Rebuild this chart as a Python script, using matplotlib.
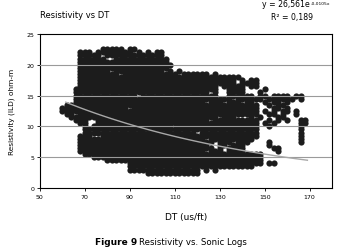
import numpy as np
import matplotlib.pyplot as plt

# Point cloud: one row per resistivity level,
# one character per DT column ('#' = points present)
DT_START = 58
DT_STEP = 2
res_levels = [22.5, 22.0, 21.5, 21.0, 20.5, 20.0, 19.5, 19.0, 18.5, 18.0,
              17.5, 17.0, 16.5, 16.0, 15.5, 15.0, 14.5, 14.0, 13.5, 13.0,
              12.5, 12.0, 11.5, 11.0, 10.5, 10.0, 9.5, 9.0, 8.5, 8.0,
              7.5, 7.0, 6.5, 6.0, 5.5, 5.0, 4.5, 4.0, 3.5, 3.0, 2.5]
cloud_rows = [
    "..........#####.##",
    ".....###.########.#.#.##",
    ".....#####.#############",
    ".....######..############",
    ".....####################",
    ".....#####################",
    ".....####################",
    ".....#######.###########.#.#",
    ".....#########.############.######.#",
    ".....####################################",
    ".....###################################.#.##",
    ".....###################################.####",
    ".....###############################.#####.##",
    "....################################..####....#",
    "....##############################.#..####...#",
    "....##############.#################..######.##.####.##",
    "....###################################.######.######.#",
    "....#############################.###.###.##..#.##.#",
    "..###########################################..#.##",
    ".###############.############################...##.#",
    ".############################################.#.#.##.#",
    "..##.########################################..##.#..#",
    "...#################################.###...#.#...##",
    "....###..#########################.##########..#.#.#..##",
    ".....##..####################################.#.#.....##",
    "......#.##################.##################..#......#",
    "......#######################################.........#",
    "......#########################.#############.........#",
    ".....###..###################################.........#",
    ".....############################.##########..........#",
    ".....##############################.###.###....#......#",
    ".....#############################..##.###.....#",
    ".....##############################.#.####......##",
    ".....############################.###.####.......#",
    "......########################################",
    "........######################################",
    "...........###################################",
    "................##############################.##",
    "................############################",
    "................################.#.#",
    "....................############",
]

# Exponential trend line shown on the chart
fit_a = 26.561
fit_b = -0.0105
fit_range = [61.5, 169]

x_ticks = [50, 70, 90, 110, 130, 150, 170]
y_ticks = [0, 5, 10, 15, 20, 25]

dt_vals = []
res_vals = []
for r, row in zip(res_levels, cloud_rows):
    for i, ch in enumerate(row):
        if ch == '#':
            dt_vals.append(DT_START + DT_STEP * i)
            res_vals.append(r)

fig = plt.figure(figsize=(3.41, 2.53), dpi=100)
ax = fig.add_axes([0.117, 0.253, 0.857, 0.609])

ax.scatter(dt_vals, res_vals, s=20, marker='o', color='#1c1c1c',
           linewidths=0, zorder=2)

for yv in y_ticks[1:-1]:
    ax.axhline(yv, color='#9a9a9a', lw=0.8, zorder=3)

xf = np.linspace(fit_range[0], fit_range[1], 100)
ax.plot(xf, fit_a * np.exp(fit_b * xf), color='#a8a8a8', lw=1.0, zorder=4)

ax.set_xlim(50, 180)
ax.set_ylim(0, 25)
ax.set_xticks(x_ticks)
ax.set_yticks(y_ticks)
ax.tick_params(labelsize=4.5, length=2, width=0.6, pad=2)
for sp in ax.spines.values():
    sp.set_linewidth(0.8)

ax.set_xlabel('DT (us/ft)', fontsize=6.5, labelpad=10)
ax.set_ylabel('Resistivity (ILD) ohm-m', fontsize=5.3, labelpad=8)

fig.text(0.117, 0.94, 'Resistivity vs DT', fontsize=6, va='center')
fig.text(0.908, 0.972, 'y = 26,561e', fontsize=5.6, ha='right', va='baseline')
fig.text(0.910, 0.982, '-0,0105x', fontsize=3.2, ha='left', va='baseline')
fig.text(0.857, 0.93, 'R² = 0,189', fontsize=5.6, ha='center', va='center')
fig.text(0.279, 0.04, 'Figure 9', fontsize=6.5, fontweight='bold', va='center')
fig.text(0.408, 0.04, 'Resistivity vs. Sonic Logs', fontsize=6.2, va='center')

fig.savefig('out.png', dpi=100)
